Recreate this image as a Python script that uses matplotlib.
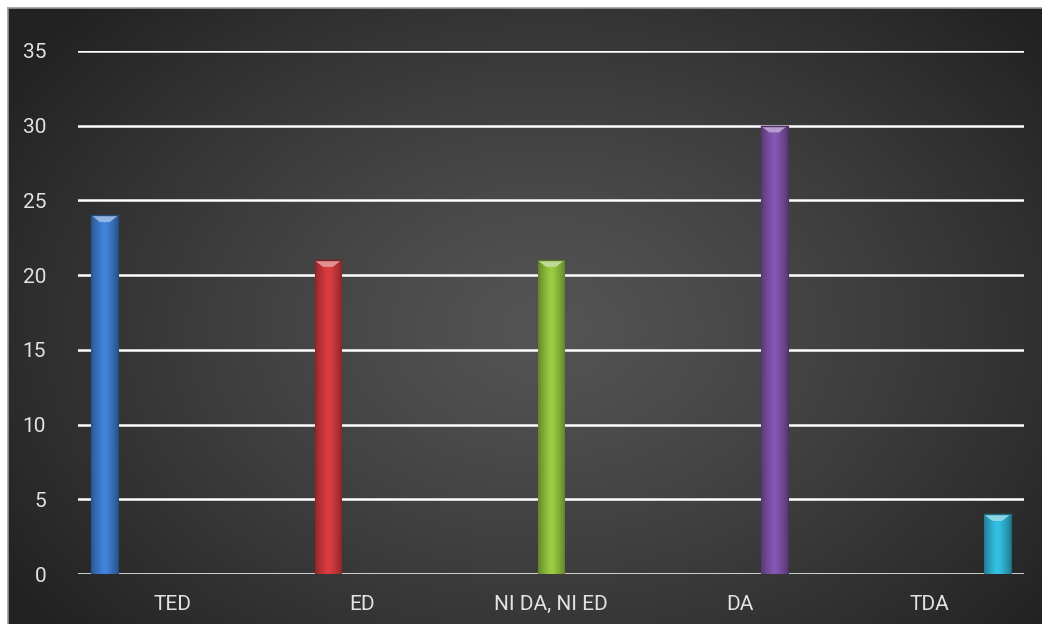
import numpy as np
import matplotlib
matplotlib.use("Agg")
import matplotlib.pyplot as plt
from matplotlib.colors import to_rgb

# Data
categories = ["TED", "ED", "NI DA, NI ED", "DA", "TDA"]
values = [24, 21, 21, 30, 4]
colors = ["#3b78c8", "#c8373a", "#8dba3c", "#7a4fa3", "#2fb0d0"]
yticks = [0, 5, 10, 15, 20, 25, 30, 35]

W, H = 1042, 624
fig = plt.figure(figsize=(W / 100, H / 100), dpi=100, facecolor="white")

# Dark radial-gradient chart background
bg = fig.add_axes([8 / W, 0, 1 - 8 / W, (H - 8) / H])
bg.set_axis_off()
nx, ny = 520, 310
xx, yy = np.meshgrid(np.linspace(0, 1, nx), np.linspace(0, 1, ny))
r = np.sqrt(((xx - 0.52) / 0.62) ** 2 + ((yy - 0.48) / 0.75) ** 2)
r = np.clip(r, 0, 1)
lum = 0.33 - 0.195 * r ** 1.2
img = np.dstack([lum, lum, lum])
bg.imshow(img, extent=[0, 1, 0, 1], aspect="auto", origin="lower")
bg.set_xlim(0, 1)
bg.set_ylim(0, 1)
# thin light frame at top and left
fig.add_artist(plt.Line2D([7.5 / W, 7.5 / W], [0, (H - 7.5) / H], color="#9a9a9a", lw=1.2,
                          transform=fig.transFigure))
fig.add_artist(plt.Line2D([7.5 / W, 1], [(H - 7.5) / H, (H - 7.5) / H], color="#9a9a9a", lw=1.2,
                          transform=fig.transFigure))

# Plot axes
left, right, bottom, top = 78, 1024, 574, 51
ax = fig.add_axes([left / W, (H - bottom) / H, (right - left) / W, (bottom - top) / H])
ax.set_facecolor("none")
ax.set_xlim(-0.5, len(categories) - 0.5)
ax.set_ylim(0, 35)
for s in ax.spines.values():
    s.set_visible(False)

for y in yticks:
    ax.axhline(y, color="white", lw=1.8, zorder=1)

slot = 0.179
bar_w = 0.142
n = len(categories)
for i, (v, c) in enumerate(zip(values, colors)):
    xc = i + (i - (n - 1) / 2) * slot
    base = np.array(to_rgb(c))
    dark = base * 0.62
    bars = ax.bar(xc, v, width=bar_w, color=c, edgecolor=tuple(dark), lw=0.8, zorder=3)
    patch = bars[0]
    # horizontal shading across the bar
    t = np.linspace(-1, 1, 64)
    shade = 1.0 - 0.30 * np.abs(t) ** 2.2 + 0.10 * np.exp(-(t / 0.35) ** 2)
    grad = np.clip(base[None, :] * shade[:, None], 0, 1)
    im = ax.imshow(grad[None, :, :], extent=[xc - bar_w / 2, xc + bar_w / 2, 0, v],
                   aspect="auto", zorder=4, interpolation="bilinear")
    im.set_clip_path(patch)
    # bevelled light cap at the top
    cap_h = 0.45
    light = np.clip(base + (1 - base) * 0.45, 0, 1)
    ax.fill([xc - bar_w / 2, xc + bar_w / 2, xc + bar_w * 0.18, xc - bar_w * 0.18],
            [v, v, v - cap_h, v - cap_h], color=tuple(light), lw=0, zorder=5)
    ax.plot([xc - bar_w / 2, xc + bar_w / 2], [v, v], color=tuple(dark), lw=1.0, zorder=6)

font = ["Roboto", "DejaVu Sans"]
ax.set_xticks(range(n))
ax.set_xticklabels(categories, family=font, fontsize=15, color="#e2e2e2")
ax.set_yticks(yticks)
ax.set_yticklabels([str(y) for y in yticks], family=font, fontsize=15, color="#e2e2e2")
ax.tick_params(axis="both", length=0)
ax.tick_params(axis="x", pad=15)
ax.tick_params(axis="y", pad=23)

fig.savefig("out.png", dpi=100, facecolor="white")
